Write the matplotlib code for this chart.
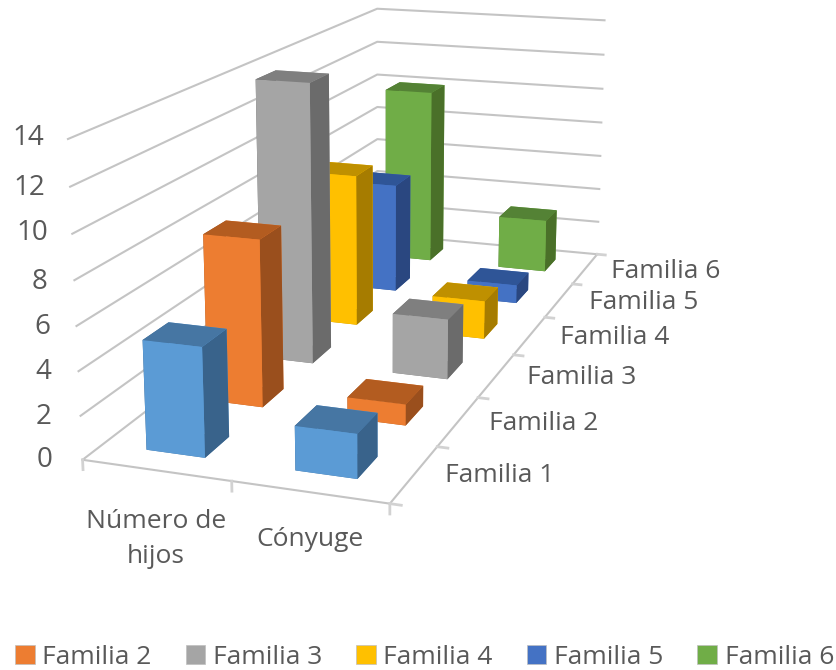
import numpy as np
import matplotlib
matplotlib.use('Agg')
import matplotlib.pyplot as plt
from matplotlib.patches import Patch

plt.rcParams['font.family'] = ['Open Sans', 'DejaVu Sans']

categories = ['Número de\nhijos', 'Cónyuge']
series = ['Familia 1', 'Familia 2', 'Familia 3', 'Familia 4', 'Familia 5', 'Familia 6']
hijos = [5, 8, 14, 8, 6, 10]
conyuge = [2, 1, 3, 2, 1, 3]
z_ticks = [0, 2, 4, 6, 8, 10, 12, 14]

front = ['#5B9BD5', '#ED7D31', '#A5A5A5', '#FFC000', '#4472C4', '#70AD47']
top = ['#4676A3', '#B35C20', '#7F7F7F', '#BF9000', '#2F5597', '#548235']
side = ['#39638B', '#9A4F1D', '#6B6B6B', '#A67C00', '#2A4780', '#4A7029']
grid_col = '#C4C4C4'
tick_col = '#D2D2D2'
text_col = '#595959'

fig = plt.figure(figsize=(8.37, 6.70), dpi=100)
# 3d axes x/y limits are not symmetric, so the square is 652 px and not 670
ax = fig.add_axes([47.3 / 837, 127.6 / 670, 652.3 / 837, 652.3 / 670], projection='3d')
ax.computed_zorder = False
ax.set_proj_type('persp', focal_length=0.512)
ax.view_init(elev=14.7, azim=-70.85, roll=0.02)
ax.set_xlim(0, 2)
ax.set_ylim(0, 6)
ax.set_zlim(0, 14)
ax.set_box_aspect((1.82, 5.0, 1.84), zoom=1.2735)
ax.set_axis_off()

# walls
for z in z_ticks:
    ax.plot([0, 0, 2], [0, 6, 6], [z, z, z], color=grid_col, lw=1.5, zorder=1)
ax.plot([0, 2, 2], [0, 0, 6], [0, 0, 0], color=grid_col, lw=1.5, zorder=1)

# ticks on floor
for x in [0, 1, 2]:
    ax.plot([x, x], [0, 0], [0, -0.45], color=tick_col, lw=2, zorder=1)
for y in range(7):
    ax.plot([2, 2.07], [y, y], [0, 0], color=tick_col, lw=2, zorder=1)

# bars
xs, ys, hs, cols = [], [], [], []
for i in range(6):
    for j, vals in enumerate([hijos, conyuge]):
        xs.append(j + 0.3)
        ys.append(i + 0.3)
        hs.append(vals[i])
        cols += [top[i], top[i], front[i], front[i], side[i], side[i]]
n = len(xs)
ax.bar3d(xs, ys, np.zeros(n), np.full(n, 0.4), np.full(n, 0.4), hs,
         color=cols, shade=False, linewidth=0, zorder=2)


def px(x, y):
    return x / 837, 1 - y / 670


for z, x0, y0 in zip(z_ticks, [53, 52, 51, 50, 48, 48, 45, 44], [460, 417, 372, 327, 282, 233, 188, 138]):
    fig.text(*px(x0, y0), str(z), ha='right', va='center', fontsize=20, color=text_col)
for s, (x0, y0) in zip(series, [(445, 476), (489, 424), (527, 377), (560, 338), (589, 303), (611, 272)]):
    fig.text(*px(x0, y0), s, ha='left', va='center', fontsize=19, color=text_col)
fig.text(*px(156, 539), categories[0], ha='center', va='center', fontsize=19, color=text_col, linespacing=1.55)
fig.text(*px(310, 540), categories[1], ha='center', va='center', fontsize=19, color=text_col)

handles = [Patch(facecolor=front[i], edgecolor='#BFBFBF', lw=0.5) for i in range(1, 6)]
fig.legend(handles, series[1:], ncol=5, loc='center', bbox_to_anchor=(424.5 / 837, 1 - 657 / 670), frameon=False,
           fontsize=19, labelcolor=text_col, handlelength=0.75, handleheight=0.75, handletextpad=0.29,
           columnspacing=1.28, borderpad=0, borderaxespad=0)

fig.savefig('out.png', dpi=100)
